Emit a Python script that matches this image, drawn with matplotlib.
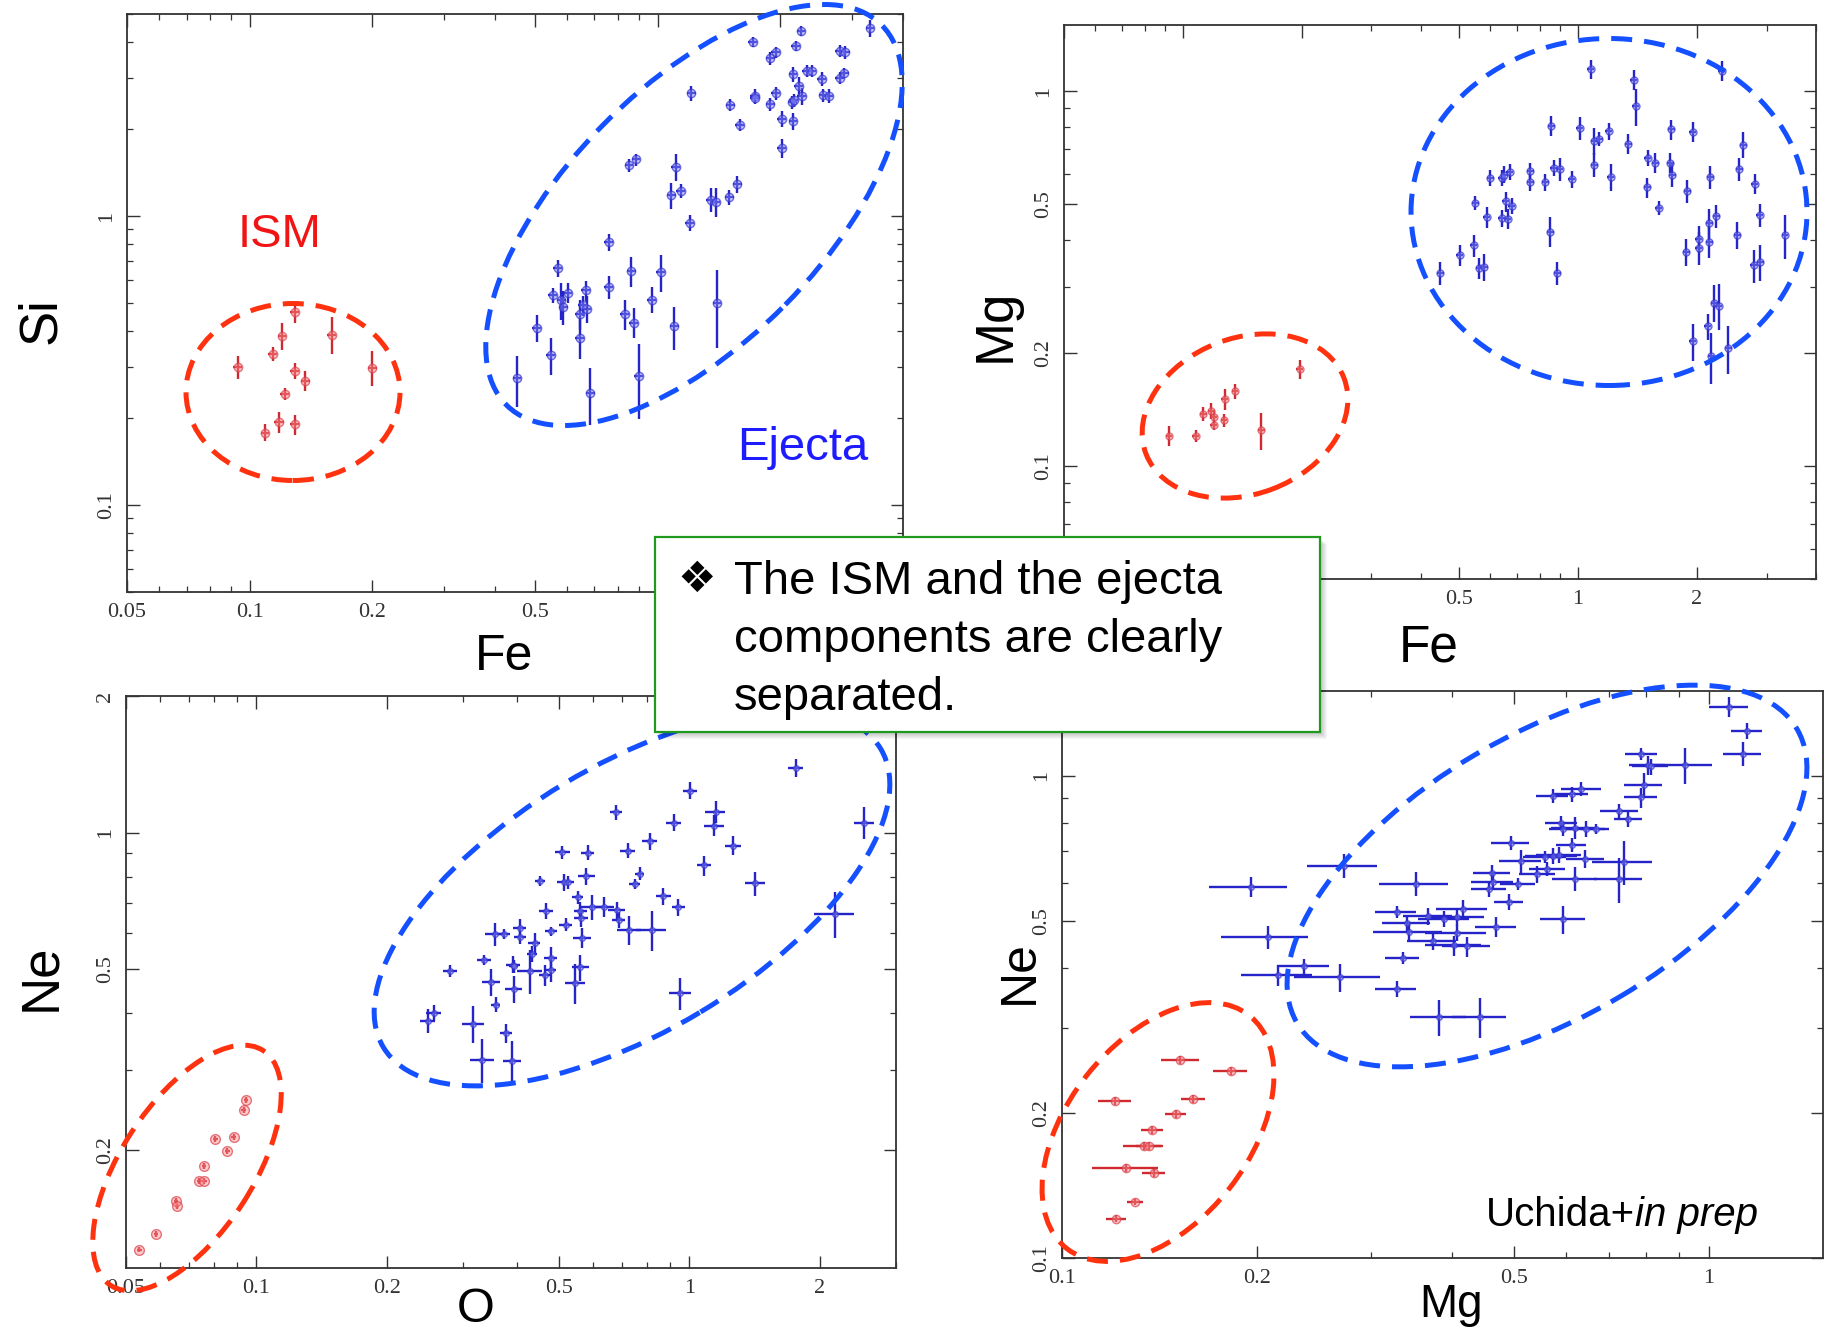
import numpy as np
import matplotlib
matplotlib.use("Agg")
import matplotlib.pyplot as plt
from matplotlib.patches import Ellipse, Rectangle
from matplotlib.transforms import IdentityTransform
from matplotlib.ticker import LogLocator, NullFormatter

plt.rcParams['font.family'] = ['Liberation Sans', 'DejaVu Sans']

W, H = 1832, 1333

# ---- Fe vs Si ----
fesi_ej_fe = [3.32, 2.25, 1.71, 2.18, 1.89, 1.95, 2.80, 2.89, 2.15, 2.32, 2.39, 2.53, 2.80, 2.87,
              1.21, 1.51, 1.73, 1.73, 1.95, 1.89, 2.14, 2.16, 2.22, 2.26, 2.55, 2.63, 1.59, 2.02, 2.15, 2.02,
              0.852, 0.886, 1.11, 1.08, 1.14, 1.35, 1.39, 1.50, 1.57, 1.20,
              0.759, 0.569, 0.553, 0.581, 0.588, 0.603, 0.667, 0.645, 0.671, 0.655, 0.759, 0.862,
              1.02, 0.968, 0.832, 0.875, 1.10, 1.40, 0.506, 0.548, 0.644, 0.452, 0.684, 0.900]
fesi_ej_si = [4.46, 4.37, 3.99, 3.87, 3.51, 3.68, 3.73, 3.68, 3.09, 3.18, 3.17, 2.98, 3.00, 3.13,
              2.66, 2.43, 2.61, 2.56, 2.66, 2.44, 2.48, 2.52, 2.81, 2.60, 2.62, 2.61, 2.07, 2.17, 2.13, 1.72,
              1.50, 1.57, 1.48, 1.18, 1.22, 1.14, 1.12, 1.16, 1.29, 0.948,
              0.813, 0.661, 0.532, 0.511, 0.484, 0.543, 0.553, 0.459, 0.478, 0.491, 0.568, 0.644,
              0.640, 0.514, 0.459, 0.428, 0.415, 0.500, 0.410, 0.330, 0.379, 0.274, 0.244, 0.280]
fesi_ej_fe_err = [0.083, 0.056, 0.043, 0.055, 0.047, 0.049, 0.070, 0.072, 0.054, 0.058, 0.060, 0.063, 0.070, 0.072,
                  0.030, 0.038, 0.043, 0.043, 0.049, 0.047, 0.054, 0.054, 0.056, 0.057, 0.064, 0.066, 0.040, 0.051, 0.054, 0.051,
                  0.021, 0.022, 0.028, 0.027, 0.029, 0.034, 0.035, 0.038, 0.039, 0.030,
                  0.019, 0.014, 0.014, 0.015, 0.015, 0.015, 0.017, 0.016, 0.017, 0.016, 0.019, 0.022,
                  0.026, 0.024, 0.021, 0.022, 0.028, 0.035, 0.013, 0.014, 0.016, 0.011, 0.017, 0.023]
fesi_ej_si_err = [0.30, 0.17, 0.16, 0.15, 0.17, 0.15, 0.18, 0.18, 0.18, 0.15, 0.15, 0.16, 0.14, 0.12,
                  0.16, 0.12, 0.15, 0.12, 0.14, 0.13, 0.13, 0.13, 0.21, 0.17, 0.14, 0.15, 0.10, 0.14, 0.14, 0.13,
                  0.08, 0.075, 0.16, 0.12, 0.07, 0.11, 0.13, 0.07, 0.085, 0.063,
                  0.054, 0.044, 0.031, 0.075, 0.064, 0.043, 0.044, 0.055, 0.051, 0.039, 0.053, 0.077,
                  0.093, 0.054, 0.055, 0.051, 0.071, 0.15, 0.043, 0.048, 0.060, 0.055, 0.055, 0.082]
fesi_ism_fe = [0.0935, 0.114, 0.120, 0.129, 0.159, 0.200, 0.129, 0.137, 0.122, 0.118, 0.129, 0.109]
fesi_ism_si = [0.301, 0.333, 0.384, 0.464, 0.389, 0.299, 0.291, 0.269, 0.243, 0.194, 0.190, 0.178]
fesi_ism_fe_err = [0.0023, 0.0029, 0.0030, 0.0032, 0.0040, 0.0050, 0.0032, 0.0034, 0.0031, 0.0030, 0.0032, 0.0027]
fesi_ism_si_err = [0.028, 0.019, 0.041, 0.037, 0.057, 0.041, 0.019, 0.021, 0.012, 0.016, 0.015, 0.012]

# ---- Fe vs Mg ----
femg_ej_fe = [0.448, 0.502, 0.545, 0.562, 0.578, 0.549, 0.588, 0.599, 0.641, 0.641,
              0.656, 0.663, 0.680, 0.671, 0.650, 0.757, 0.757, 0.826, 0.868, 0.899,
              0.856, 0.964, 0.851, 0.885, 1.01, 1.075, 1.10, 1.13, 1.10, 1.197,
              1.21, 1.34, 1.385, 1.40, 1.50, 1.567, 1.495, 1.60, 1.72, 1.71,
              1.73, 1.95, 1.89, 2.16, 2.31, 2.56, 2.62, 2.80, 2.88, 2.24,
              2.15, 2.15, 2.02, 2.02, 1.88, 2.53, 2.78, 2.89, 3.34, 2.21,
              2.27, 2.13, 1.95, 2.17, 2.40]
femg_ej_mg = [0.327, 0.365, 0.388, 0.337, 0.339, 0.504, 0.462, 0.587, 0.587, 0.459,
              0.508, 0.456, 0.495, 0.609, 0.599, 0.612, 0.571, 0.571, 0.624, 0.620,
              0.807, 0.581, 0.422, 0.327, 0.798, 1.143, 0.736, 0.746, 0.636, 0.782,
              0.590, 0.723, 1.073, 0.912, 0.664, 0.644, 0.554, 0.488, 0.790, 0.644,
              0.599, 0.780, 0.541, 0.589, 1.13, 0.618, 0.720, 0.566, 0.466, 0.464,
              0.445, 0.396, 0.403, 0.382, 0.372, 0.414, 0.343, 0.350, 0.412, 0.273,
              0.268, 0.236, 0.215, 0.196, 0.206]
femg_ej_fe_err = [0.009, 0.010, 0.011, 0.011, 0.012, 0.011, 0.012, 0.012, 0.013, 0.013,
                  0.013, 0.013, 0.014, 0.013, 0.013, 0.015, 0.015, 0.017, 0.017, 0.018,
                  0.017, 0.019, 0.017, 0.018, 0.020, 0.022, 0.022, 0.023, 0.022, 0.024,
                  0.024, 0.027, 0.028, 0.028, 0.030, 0.031, 0.030, 0.032, 0.034, 0.034,
                  0.035, 0.039, 0.038, 0.043, 0.046, 0.051, 0.052, 0.056, 0.058, 0.045,
                  0.043, 0.043, 0.040, 0.040, 0.038, 0.051, 0.056, 0.058, 0.067, 0.044,
                  0.045, 0.043, 0.039, 0.043, 0.048]
femg_ej_mg_err = [0.023, 0.024, 0.026, 0.021, 0.028, 0.021, 0.030, 0.030, 0.030, 0.024,
                  0.031, 0.028, 0.025, 0.031, 0.031, 0.031, 0.029, 0.029, 0.032, 0.044,
                  0.050, 0.030, 0.039, 0.023, 0.057, 0.066, 0.060, 0.031, 0.046, 0.040,
                  0.048, 0.044, 0.066, 0.103, 0.034, 0.040, 0.034, 0.020, 0.049, 0.040,
                  0.043, 0.048, 0.039, 0.042, 0.069, 0.044, 0.059, 0.035, 0.033, 0.033,
                  0.041, 0.037, 0.033, 0.039, 0.030, 0.034, 0.035, 0.039, 0.055, 0.031,
                  0.038, 0.019, 0.024, 0.030, 0.030]
femg_ism_fe = [0.0922, 0.1078, 0.1126, 0.1179, 0.1195, 0.1198, 0.1270, 0.1277, 0.1354, 0.1577, 0.1976]
femg_ism_mg = [0.1202, 0.1202, 0.1377, 0.1405, 0.1349, 0.1287, 0.1327, 0.1508, 0.1583, 0.1248, 0.1816]
femg_ism_fe_err = [0.0018, 0.0022, 0.0023, 0.0024, 0.0024, 0.0024, 0.0025, 0.0026, 0.0027, 0.0032, 0.0040]
femg_ism_mg_err = [0.0074, 0.0044, 0.0056, 0.0072, 0.0055, 0.0040, 0.0054, 0.0093, 0.0071, 0.0141, 0.0104]

# ---- O vs Ne ----
one_ej_o = [1.76, 1.004, 0.676, 1.150, 1.140, 0.919, 0.809, 1.263, 2.53, 0.721,
            0.509, 0.582, 1.081, 1.419, 0.451, 0.513, 0.524, 0.578, 0.767, 0.747,
            0.552, 0.871, 0.943, 0.595, 0.636, 0.560, 0.680, 0.686, 0.727, 0.819,
            0.562, 0.467, 0.519, 0.479, 0.566, 2.17, 0.355, 0.373, 0.406, 0.406,
            0.439, 0.433, 0.478, 0.336, 0.392, 0.393, 0.428, 0.478, 0.465, 0.560,
            0.545, 0.280, 0.349, 0.393, 0.357, 0.952, 0.257, 0.249, 0.317, 0.378,
            0.332, 0.390]
one_ej_ne = [1.39, 1.238, 1.109, 1.113, 1.037, 1.053, 0.958, 0.937, 1.053, 0.913,
             0.906, 0.904, 0.847, 0.773, 0.783, 0.777, 0.777, 0.801, 0.812, 0.770,
             0.721, 0.724, 0.686, 0.686, 0.686, 0.674, 0.676, 0.643, 0.611, 0.611,
             0.648, 0.673, 0.627, 0.606, 0.586, 0.663, 0.598, 0.598, 0.618, 0.589,
             0.571, 0.541, 0.529, 0.525, 0.512, 0.508, 0.497, 0.499, 0.485, 0.505,
             0.466, 0.497, 0.469, 0.452, 0.418, 0.443, 0.401, 0.385, 0.380, 0.362,
             0.316, 0.315]
one_ej_o_err = [0.069, 0.039, 0.022, 0.061, 0.061, 0.036, 0.031, 0.056, 0.134, 0.028,
                0.020, 0.021, 0.038, 0.075, 0.012, 0.018, 0.017, 0.026, 0.020, 0.020,
                0.015, 0.034, 0.033, 0.032, 0.034, 0.020, 0.030, 0.024, 0.045, 0.065,
                0.020, 0.017, 0.018, 0.015, 0.028, 0.230, 0.018, 0.012, 0.014, 0.013,
                0.014, 0.011, 0.017, 0.012, 0.014, 0.010, 0.029, 0.015, 0.016, 0.025,
                0.029, 0.010, 0.017, 0.017, 0.009, 0.054, 0.010, 0.010, 0.018, 0.012,
                0.021, 0.019]
one_ej_ne_err = [0.066, 0.052, 0.041, 0.060, 0.056, 0.044, 0.040, 0.044, 0.085, 0.034,
                 0.031, 0.034, 0.043, 0.046, 0.020, 0.033, 0.026, 0.034, 0.027, 0.020,
                 0.024, 0.031, 0.029, 0.044, 0.035, 0.028, 0.029, 0.027, 0.046, 0.062,
                 0.027, 0.028, 0.021, 0.015, 0.030, 0.078, 0.035, 0.015, 0.026, 0.020,
                 0.029, 0.023, 0.031, 0.013, 0.022, 0.017, 0.055, 0.030, 0.025, 0.034,
                 0.047, 0.015, 0.032, 0.031, 0.016, 0.036, 0.017, 0.023, 0.035, 0.018,
                 0.035, 0.032]
one_ism_o = [0.0537, 0.0587, 0.0653, 0.0656, 0.0739, 0.0759, 0.0758, 0.0804, 0.0857, 0.0887, 0.0935, 0.0947]
one_ism_ne = [0.1208, 0.1308, 0.1543, 0.1504, 0.1711, 0.1711, 0.1842, 0.2117, 0.1988, 0.2138, 0.2452, 0.2574]
one_ism_o_err = [0.0007, 0.0007, 0.0008, 0.0008, 0.0009, 0.0009, 0.0009, 0.0010, 0.0010, 0.0011, 0.0011, 0.0011]
one_ism_ne_err = [0.0018, 0.0020, 0.0023, 0.0023, 0.0026, 0.0026, 0.0028, 0.0032, 0.0030, 0.0032, 0.0037, 0.0039]

# ---- Mg vs Ne ----
mgne_ej_mg = [1.074, 1.146, 1.128, 0.786, 0.804, 0.812, 0.917, 0.792, 0.784, 0.635,
              0.613, 0.573, 0.727, 0.750, 0.591, 0.621, 0.646, 0.668, 0.595, 0.494,
              0.613, 0.587, 0.573, 0.558, 0.512, 0.644, 0.738, 0.727, 0.621, 0.543,
              0.562, 0.273, 0.196, 0.352, 0.462, 0.463, 0.457, 0.507, 0.491, 0.595,
              0.416, 0.408, 0.390, 0.368, 0.329, 0.341, 0.469, 0.408, 0.344, 0.374,
              0.404, 0.422, 0.336, 0.208, 0.237, 0.216, 0.269, 0.329, 0.383, 0.443]
mgne_ej_ne = [1.392, 1.241, 1.112, 1.112, 1.052, 1.046, 1.052, 0.959, 0.902, 0.939,
              0.915, 0.909, 0.847, 0.812, 0.799, 0.781, 0.777, 0.777, 0.777, 0.726,
              0.719, 0.686, 0.683, 0.679, 0.666, 0.673, 0.664, 0.611, 0.611, 0.625,
              0.641, 0.651, 0.588, 0.597, 0.629, 0.602, 0.582, 0.597, 0.548, 0.504,
              0.529, 0.509, 0.506, 0.511, 0.522, 0.495, 0.486, 0.472, 0.474, 0.454,
              0.445, 0.443, 0.420, 0.463, 0.403, 0.386, 0.382, 0.362, 0.316, 0.316]
mgne_ej_mg_err = [0.073, 0.063, 0.077, 0.045, 0.052, 0.052, 0.095, 0.054, 0.046, 0.045,
                  0.037, 0.033, 0.049, 0.038, 0.034, 0.051, 0.045, 0.033, 0.030, 0.033,
                  0.033, 0.046, 0.053, 0.042, 0.038, 0.044, 0.079, 0.062, 0.049, 0.035,
                  0.036, 0.034, 0.027, 0.043, 0.030, 0.034, 0.028, 0.031, 0.025, 0.048,
                  0.037, 0.041, 0.035, 0.032, 0.024, 0.029, 0.034, 0.044, 0.042, 0.033,
                  0.040, 0.036, 0.020, 0.032, 0.022, 0.027, 0.041, 0.024, 0.038, 0.042]
mgne_ej_ne_err = [0.067, 0.048, 0.064, 0.032, 0.050, 0.040, 0.091, 0.055, 0.043, 0.032,
                  0.032, 0.031, 0.029, 0.028, 0.028, 0.042, 0.030, 0.018, 0.027, 0.025,
                  0.025, 0.026, 0.026, 0.020, 0.036, 0.028, 0.070, 0.065, 0.035, 0.024,
                  0.022, 0.037, 0.028, 0.034, 0.024, 0.023, 0.022, 0.017, 0.021, 0.034,
                  0.025, 0.020, 0.019, 0.020, 0.015, 0.019, 0.023, 0.018, 0.018, 0.019,
                  0.021, 0.021, 0.012, 0.025, 0.015, 0.019, 0.026, 0.014, 0.027, 0.030]
mgne_ism_mg = [0.1524, 0.1823, 0.1208, 0.1594, 0.1499, 0.1379, 0.1339, 0.1363, 0.1258, 0.1386, 0.1298, 0.1213]
mgne_ism_ne = [0.2572, 0.2447, 0.2118, 0.2135, 0.1987, 0.1844, 0.1711, 0.1711, 0.1535, 0.1501, 0.1307, 0.1207]
mgne_ism_mg_err = [0.0102, 0.0111, 0.0072, 0.0069, 0.0056, 0.0053, 0.0096, 0.0061, 0.0147, 0.0055, 0.0038, 0.0043]
mgne_ism_ne_err = [0.0049, 0.0046, 0.0040, 0.0041, 0.0038, 0.0035, 0.0033, 0.0033, 0.0029, 0.0029, 0.0021, 0.0019]

box_lines = ["The ISM and the ejecta", "components are clearly", "separated."]

BLUE = '#2424c8'
RED = '#cf2a30'
RING_RED = '#ff3210'
RING_BLUE = '#1450ff'


def rect(l, t, r, b):
    return [l / W, 1 - b / H, (r - l) / W, (b - t) / H]


def setup(ax, xlim, ylim, xticks, yticks, hide_x=()):
    ax.set_xscale('log')
    ax.set_yscale('log')
    ax.set_xlim(xlim)
    ax.set_ylim(ylim)
    # labels sitting under the call-out box are left blank
    ax.set_xticks(xticks, labels=['' if t in hide_x else f"{t:g}" for t in xticks],
                  fontsize=16, fontfamily='Liberation Serif')
    ax.set_yticks(yticks, labels=[f"{t:g}" for t in yticks],
                  fontsize=16, fontfamily='Liberation Serif', rotation=90, va='center')
    for axis in (ax.xaxis, ax.yaxis):
        axis.set_minor_locator(LogLocator(base=10, subs=np.arange(2, 10)))
        axis.set_minor_formatter(NullFormatter())
    ax.tick_params(which='both', direction='in', top=True, right=True,
                   color='#333333', labelcolor='#333333')
    ax.tick_params(which='major', length=9, width=1.0, pad=8)
    ax.tick_params(which='minor', length=4.5, width=0.9)
    for s in ax.spines.values():
        s.set_linewidth(1.3)
        s.set_color('#333333')


def points(ax, x, y, xerr, yerr, color, face, edge, ms=6):
    ax.errorbar(x, y, xerr=xerr, yerr=yerr, fmt='o', ms=ms, mfc=face, mec=edge, mew=1.0,
                ecolor=color, elinewidth=1.7, capsize=0, zorder=3)


def ring(fig, cx, cy, a, b, ang, color):
    fig.add_artist(Ellipse((cx, H - cy), 2 * a, 2 * b, angle=ang, transform=IdentityTransform(),
                           fill=False, ec=color, lw=3.6, ls=(0, (4.2, 2.4)), zorder=5))


def label(fig, x, y, s, size, rot=0, va='baseline'):
    if rot:
        fig.text(x, H - y, s, fontsize=size, rotation=90, rotation_mode='anchor',
                 ha='center', va=va, transform=IdentityTransform(), zorder=6)
    else:
        fig.text(x, H - y, s, fontsize=size, ha='center', va=va,
                 transform=IdentityTransform(), zorder=6)


fig = plt.figure(figsize=(W / 100, H / 100), dpi=100)

red_face, red_edge = (1.0, 0.55, 0.55, 0.45), (0.85, 0.25, 0.3, 0.7)
blue_face, blue_edge = (0.55, 0.55, 1.0, 0.45), (0.2, 0.2, 0.8, 0.7)

# Fe - Si
ax1 = fig.add_axes(rect(127, 14, 903, 592))
setup(ax1, (0.05, 4.0), (0.05, 5.0), [0.05, 0.1, 0.2, 0.5, 1, 2], [0.1, 1], hide_x=(1, 2))
points(ax1, fesi_ej_fe, fesi_ej_si, fesi_ej_fe_err, fesi_ej_si_err, BLUE, blue_face, blue_edge)
points(ax1, fesi_ism_fe, fesi_ism_si, fesi_ism_fe_err, fesi_ism_si_err, RED, red_face, red_edge)

# Fe - Mg
ax2 = fig.add_axes(rect(1064, 25, 1816, 579))
setup(ax2, (0.05, 4.0), (0.05, 1.5), [0.05, 0.1, 0.2, 0.5, 1, 2], [0.1, 0.2, 0.5, 1],
      hide_x=(0.05, 0.1, 0.2))
points(ax2, femg_ej_fe, femg_ej_mg, femg_ej_fe_err, femg_ej_mg_err, BLUE, blue_face, blue_edge, ms=5)
points(ax2, femg_ism_fe, femg_ism_mg, femg_ism_fe_err, femg_ism_mg_err, RED, red_face, red_edge, ms=5)

# O - Ne
ax3 = fig.add_axes(rect(126, 696, 896, 1268))
setup(ax3, (0.05, 3.0), (0.11, 2.0), [0.05, 0.1, 0.2, 0.5, 1, 2], [0.2, 0.5, 1, 2])
points(ax3, one_ej_o, one_ej_ne, one_ej_o_err, one_ej_ne_err, BLUE, blue_face, blue_edge, ms=4)
points(ax3, one_ism_o, one_ism_ne, one_ism_o_err, one_ism_ne_err, RED, red_face, red_edge, ms=7)

# Mg - Ne
ax4 = fig.add_axes(rect(1062, 691, 1823, 1258))
setup(ax4, (0.1, 1.5), (0.1, 1.5), [0.1, 0.2, 0.5, 1], [0.1, 0.2, 0.5, 1])
points(ax4, mgne_ej_mg, mgne_ej_ne, mgne_ej_mg_err, mgne_ej_ne_err, BLUE, blue_face, blue_edge, ms=4)
points(ax4, mgne_ism_mg, mgne_ism_ne, mgne_ism_mg_err, mgne_ism_ne_err, RED, red_face, red_edge, ms=6)

# dashed rings around the two groups
ring(fig, 293, 392, 107, 88.5, 0, RING_RED)
ring(fig, 694, 215, 267, 128, 45.5, RING_BLUE)
ring(fig, 1245, 416, 106, 78, 21, RING_RED)
ring(fig, 1609, 212, 198, 173.5, 0, RING_BLUE)
ring(fig, 187, 1168, 140, 66, 57, RING_RED)
ring(fig, 632, 898, 290, 133, 31, RING_BLUE)
ring(fig, 1158, 1132, 148, 91, 52, RING_RED)
ring(fig, 1547, 876, 290, 141, 30.5, RING_BLUE)

# axis titles
label(fig, 55.5, 321, 'Si', 38, rot=True)
label(fig, 504.5, 670, 'Fe', 36)
label(fig, 1009.5, 325, 'Mg', 38, rot=True)
label(fig, 1428.5, 661, 'Fe', 37)
label(fig, 55.5, 977, 'Ne', 38, rot=True)
label(fig, 475.5, 1332, 'O', 35, va='bottom')
label(fig, 1033, 972, 'Ne', 36, rot=True)
label(fig, 1451, 1317, 'Mg', 33)

fig.text(279.6, H - 247, 'ISM', fontsize=34, color='#f01414', ha='center', va='baseline',
         transform=IdentityTransform(), zorder=6)
fig.text(737, H - 460, 'Ejecta', fontsize=34, color='#1c1cff', ha='left', va='baseline',
         transform=IdentityTransform(), zorder=6)
ref = fig.text(1486, H - 1226, 'Uchida+', fontsize=29, ha='left', va='baseline',
               transform=IdentityTransform(), zorder=6)
ax4.annotate('in prep', xy=(1, 0), xycoords=ref, fontsize=29, style='italic',
             ha='left', va='bottom', zorder=6)

# call-out box with a soft shadow
bl, bt, br, bb = 655, 537, 1320, 732
for k in range(1, 8):
    fig.add_artist(Rectangle((bl + k, H - bb - k), br - bl, bb - bt, transform=IdentityTransform(),
                             fc=(0, 0, 0, 0.035), ec='none', zorder=7))
fig.add_artist(Rectangle((bl, H - bb), br - bl, bb - bt, transform=IdentityTransform(),
                         fc='white', ec='#1f9a1f', lw=1.6, zorder=8))
fig.text(697, H - 580, '\u2756', fontsize=31, family=['DejaVu Sans'], ha='center', va='center',
         transform=IdentityTransform(), zorder=9)
for i, line in enumerate(box_lines):
    fig.text(734, H - (594 + 58 * i), line, fontsize=34, ha='left', va='baseline',
             transform=IdentityTransform(), zorder=9)

fig.savefig('out.png', dpi=100, facecolor='white')
